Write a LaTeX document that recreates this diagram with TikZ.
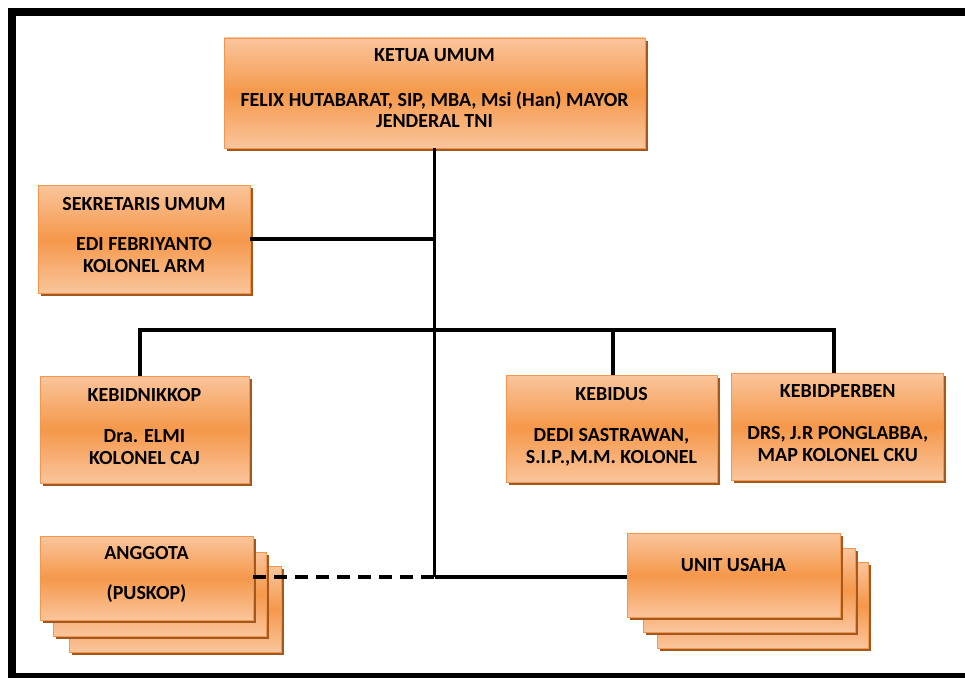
\documentclass[tikz,border=0pt]{standalone}
\usepackage{fontspec}
\setmainfont{Carlito}
\usepackage{tikz}
\usetikzlibrary{positioning}

\definecolor{orangelight}{HTML}{FAC59C}
\definecolor{orangemid}{HTML}{F5984A}
\definecolor{orangeedge}{HTML}{F3964E}
\definecolor{shadowbrown}{HTML}{A4581E}

\begin{document}
\begin{tikzpicture}[x=1pt, y=-1pt,
  orgbox/.style={rectangle, draw=orangeedge, line width=0.8pt,
    top color=orangelight, bottom color=orangelight, middle color=orangemid,
    preaction={fill=shadowbrown, transform canvas={xshift=2.5pt, yshift=-3pt}},
    minimum width=211pt, minimum height=107pt, inner sep=0pt,
    align=center, font=\bfseries\fontsize{20}{21.5}\selectfont},
  link/.style={line width=3.5pt},
  dashlink/.style={line width=3.5pt, dash pattern=on 13pt off 8pt}]
  \useasboundingbox (0,0) rectangle (965,677);
  \clip (0,0) rectangle (965,677);

  % Frame
  \draw[line width=8pt] (11.5,12) rectangle (990,677);

  % Top of the chart
  \node[orgbox, minimum width=421pt, minimum height=110pt, text depth=9pt] (ketua) at (434.5,93)
    {KETUA UMUM\\[23pt]FELIX HUTABARAT, SIP, MBA, Msi (Han) MAYOR\\JENDERAL TNI};
  \node[orgbox, minimum width=212pt, minimum height=108pt, text depth=9pt] (sekretaris) at (144,239)
    {SEKRETARIS UMUM\\[19pt]EDI FEBRIYANTO\\KOLONEL ARM};

  % Bidang
  \node[orgbox, minimum width=209pt, text depth=7pt] (kebidnikkop) at (144.5,429.5)
    {KEBIDNIKKOP\\[20pt]Dra. ELMI\\KOLONEL CAJ};
  \node[orgbox, text depth=7pt] (kebidus) at (611.5,428.5)
    {KEBIDUS\\[20pt]DEDI SASTRAWAN,\\S.I.P.,M.M. KOLONEL};
  \node[orgbox, minimum width=212pt, right=14pt of kebidus, yshift=2pt, text depth=7pt] (kebidperben)
    {KEBIDPERBEN\\[21pt]DRS, J.R PONGLABBA,\\MAP KOLONEL CKU};

  % Anggota stack
  \node[orgbox, minimum width=212pt, minimum height=86pt] (anggota3) at (175,609) {};
  \node[orgbox, minimum width=213pt, minimum height=84pt] (anggota2) at (159.5,594) {};
  \node[orgbox, minimum width=213pt, minimum height=84pt, text depth=10pt] (anggota) at (146.5,578)
    {ANGGOTA\\[18pt](PUSKOP)};

  % Unit usaha stack
  \node[orgbox, minimum width=211pt, minimum height=86pt] (unit3) at (762.5,605) {};
  \node[orgbox, minimum width=212pt, minimum height=84pt] (unit2) at (749,590) {};
  \node[orgbox, minimum width=213pt, minimum height=84pt, text depth=20pt] (unit) at (733.5,575)
    {UNIT USAHA};

  % Lines
  \coordinate (bus) at (434.5,330);
  \coordinate (hub) at (434.5,577);
  \draw[link] (ketua.south) -- (hub);
  \draw[link] (sekretaris.east) -- (sekretaris.east -| ketua.south);
  \draw[link] ([xshift=-4.5pt]kebidnikkop.north) |- (bus) -| ([xshift=-4pt]kebidperben.north);
  \draw[link] ([xshift=1.5pt]kebidus.north) -- ([xshift=1.5pt]kebidus.north |- bus);
  \draw[dashlink] (anggota.east |- hub) -- (hub);
  \draw[link] (hub) -- (hub -| unit.west);
\end{tikzpicture}
\end{document}
